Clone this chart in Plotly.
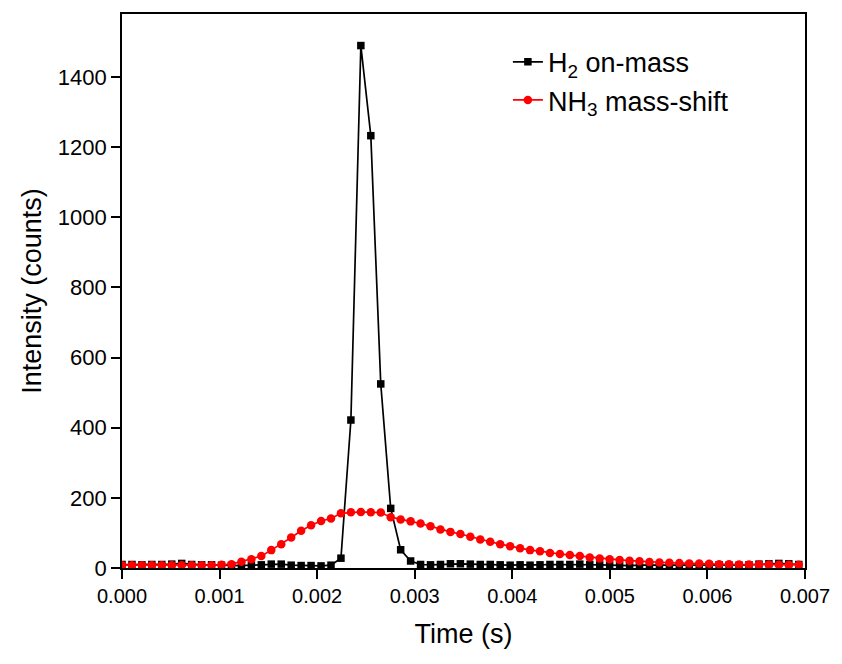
import plotly.graph_objects as go

# Time points (microseconds), converted to seconds below
time_us = [0, 102, 204, 306, 408, 510, 612, 714, 816, 918,
           1020, 1122, 1224, 1326, 1428, 1530, 1632, 1734, 1836, 1938,
           2040, 2142, 2244, 2346, 2448, 2550, 2652, 2754, 2856, 2958,
           3060, 3162, 3264, 3366, 3468, 3570, 3672, 3774, 3876, 3978,
           4080, 4182, 4284, 4386, 4488, 4590, 4692, 4794, 4896, 4998,
           5100, 5202, 5304, 5406, 5508, 5610, 5712, 5814, 5916, 6018,
           6120, 6222, 6324, 6426, 6528, 6630, 6732, 6834, 6936]
time_s = [t * 1e-6 for t in time_us]

h2_on_mass = [10, 10, 9, 10, 10, 11, 13, 10, 9, 9,
              8, 7, 7, 8, 9, 11, 11, 8, 7, 7,
              6, 8, 28, 422, 1490, 1233, 525, 170, 52, 20,
              10, 9, 10, 12, 12, 11, 10, 10, 9, 8,
              9, 8, 9, 10, 10, 10, 11, 10, 9, 8,
              7, 7, 8, 8, 7, 6, 7, 8, 7, 8,
              9, 8, 8, 9, 11, 12, 13, 12, 10]

nh3_mass_shift = [8, 8, 8, 8, 8, 8, 8, 8, 8, 8,
                  9, 11, 18, 25, 34, 51, 68, 87, 106, 122,
                  134, 141, 156, 159, 160, 159, 158, 145, 138, 133,
                  127, 119, 110, 103, 97, 89, 81, 75, 68, 62,
                  56, 51, 48, 43, 40, 37, 34, 30, 27, 25,
                  23, 21, 19, 17, 16, 15, 14, 13, 13, 12,
                  11, 11, 10, 10, 10, 10, 9, 9, 9]

x_ticks = [0.000, 0.001, 0.002, 0.003, 0.004, 0.005, 0.006, 0.007]
x_tick_labels = ["0.000", "0.001", "0.002", "0.003", "0.004", "0.005", "0.006", "0.007"]
y_ticks = [0, 200, 400, 600, 800, 1000, 1200, 1400]

FONT = "Arial, 'Liberation Sans', sans-serif"

fig = go.Figure()
fig.add_trace(go.Scatter(
    x=time_s, y=h2_on_mass, mode="lines+markers",
    name="H<sub>2</sub> on-mass",
    line=dict(color="black", width=1.7),
    marker=dict(symbol="square", size=7.5, color="black"),
))
fig.add_trace(go.Scatter(
    x=time_s, y=nh3_mass_shift, mode="lines+markers",
    name="NH<sub>3</sub> mass-shift",
    line=dict(color="red", width=1.7),
    marker=dict(symbol="circle", size=8.5, color="red"),
))

axis_common = dict(
    showline=True, linecolor="black", linewidth=1.6, mirror=True,
    ticks="outside", ticklen=9, tickwidth=1.5, tickcolor="black",
    showgrid=False, zeroline=False,
)

fig.update_xaxes(
    range=[0, 0.007], tickvals=x_ticks, ticktext=x_tick_labels,
    tickfont=dict(family=FONT, size=20, color="black"),
    title=dict(text="Time (s)", font=dict(family=FONT, size=27, color="black"), standoff=18),
    **axis_common,
)
fig.update_yaxes(
    range=[0, 1580], tickvals=y_ticks,
    tickfont=dict(family=FONT, size=22, color="black"),
    title=dict(text="Intensity (counts)", font=dict(family=FONT, size=27, color="black"), standoff=8),
    **axis_common,
)

fig.update_layout(
    width=842, height=664,
    margin=dict(l=122, r=34, t=12, b=96),
    paper_bgcolor="white", plot_bgcolor="white",
    font=dict(family=FONT, color="black"),
    showlegend=True,
    legend=dict(
        x=0.565, y=0.957, xanchor="left", yanchor="top",
        bgcolor="rgba(0,0,0,0)", borderwidth=0,
        font=dict(family=FONT, size=27, color="black"),
        tracegroupgap=0,
    ),
)

fig.write_html("out.html")
